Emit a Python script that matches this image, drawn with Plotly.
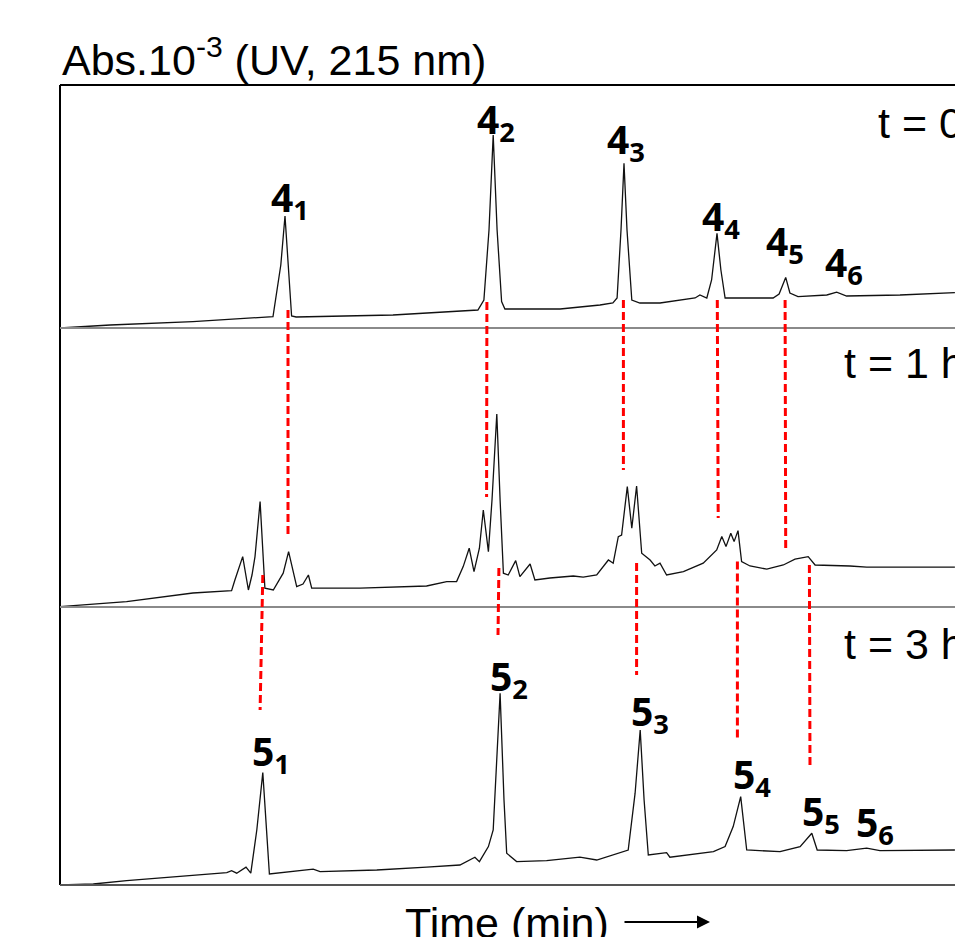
import plotly.graph_objects as go

# ---------------- data (time in min, absorbance x10^-3 relative to each trace's own baseline) -------------
t0_time = [0.0, 1.67, 4.43, 6.67, 7.10, 7.36, 7.50, 7.72, 7.87, 11.10, 13.67, 13.93, 14.13, 14.30, 14.44,
           14.57, 14.72, 14.83, 15.33, 16.67, 18.0, 18.43, 18.57, 18.70, 18.80, 18.90, 19.06, 19.33, 20.0,
           21.17, 21.33, 21.56, 21.72, 21.90, 22.03, 22.17, 23.77, 23.97, 24.19, 24.33, 24.60, 25.56, 25.89,
           26.22, 28.0, 29.83]
t0_abs = [0.0, 1.5, 3.2, 5.5, 5.7, 31.5, 56.0, 6.0, 5.5, 6.5, 9.0, 9.0, 14.0, 49.0, 96.5,
          49.0, 13.2, 9.5, 9.5, 9.5, 11.5, 12.5, 15.0, 49.0, 82.3, 49.0, 14.0, 12.5, 12.5,
          15.0, 16.5, 15.0, 24.0, 47.3, 29.0, 15.0, 15.0, 17.0, 25.3, 17.5, 15.7, 16.5, 17.9,
          16.0, 16.5, 17.7]

t1_time = [0.0, 2.22, 4.43, 5.72, 5.83, 6.09, 6.28, 6.40, 6.50, 6.67, 6.83, 7.11, 7.44, 7.62, 7.89,
           8.10, 8.28, 8.39, 10.0, 12.22, 12.89, 13.22, 13.44, 13.64, 13.80, 13.98, 14.11, 14.28, 14.40,
           14.56, 14.67, 14.78, 14.94, 15.19, 15.33, 15.67, 15.83, 16.33, 17.11, 17.44, 17.89, 18.28,
           18.44, 18.61, 18.72, 18.91, 19.06, 19.22, 19.39, 19.67, 19.83, 20.0, 20.22, 20.78, 21.44,
           21.89, 22.06, 22.20, 22.36, 22.47, 22.60, 22.72, 23.0, 23.56, 24.11, 24.50, 24.94, 25.17,
           26.33, 26.89, 29.83]
t1_abs = [0.2, 2.7, 7.0, 8.2, 13.5, 25.2, 8.5, 16.0, 25.2, 52.7, 9.4, 8.5, 16.9, 27.7, 10.2,
          11.5, 16.0, 9.4, 9.4, 10.5, 12.7, 12.7, 20.2, 29.4, 17.7, 29.4, 48.5, 27.7, 53.5,
          96.5, 53.5, 16.9, 16.0, 23.2, 15.2, 21.5, 13.5, 14.5, 15.5, 14.9, 16.0, 23.5,
          21.9, 35.2, 36.0, 60.2, 39.4, 60.5, 26.9, 23.5, 20.5, 21.9, 16.0, 17.7, 21.9,
          28.5, 35.2, 30.2, 36.9, 32.7, 38.2, 22.7, 20.5, 18.9, 21.0, 23.9, 25.2, 21.0,
          20.5, 19.9, 19.9]

t3_time = [0.0, 1.11, 2.22, 4.44, 5.56, 5.72, 5.89, 6.20, 6.36, 6.56, 6.76, 6.98, 7.78, 8.44, 8.67,
           10.56, 12.22, 13.33, 13.83, 13.98, 14.28, 14.44, 14.67, 14.80, 14.89, 15.22, 16.22, 17.33,
           17.89, 18.67, 18.94, 19.17, 19.34, 19.47, 19.61, 20.22, 20.33, 21.78, 22.17, 22.44, 22.69,
           22.89, 24.0, 24.67, 25.06, 25.24, 26.22, 26.89, 27.33, 29.83]
t3_abs = [0.0, 0.5, 2.2, 5.0, 6.2, 7.2, 5.9, 8.9, 5.9, 27.5, 56.2, 5.5, 6.7, 7.9, 6.7,
          7.5, 8.9, 10.0, 13.9, 11.7, 19.2, 27.5, 95.9, 42.5, 15.9, 11.7, 12.2, 13.9,
          12.5, 16.2, 17.5, 45.9, 77.5, 42.5, 15.0, 16.2, 13.9, 16.7, 19.2, 29.2, 44.2,
          17.5, 16.7, 19.2, 25.9, 17.5, 17.2, 18.4, 17.2, 17.5]

trace_names = ["t = 0", "t = 1 h", "t = 3 h"]
trace_times = [t0_time, t1_time, t3_time]
trace_abs = [t0_abs, t1_abs, t3_abs]

# peak labels: (compound, index, time, stacked absorbance)
peak_labels = [("4", "1", 7.65, 343.0), ("4", "2", 14.52, 381.8), ("4", "3", 18.88, 371.8),
               ("4", "4", 22.02, 333.3), ("4", "5", 24.15, 321.0), ("4", "6", 26.12, 310.3),
               ("5", "1", 7.03, 66.0), ("5", "2", 14.98, 103.3), ("5", "3", 19.68, 86.0),
               ("5", "4", 23.07, 54.3), ("5", "5", 25.35, 36.0), ("5", "6", 27.18, 30.3)]

# correlation links between runs: (time_top, abs_top, time_bottom, abs_bottom) in stacked units
links = [(7.60, 287.5, 7.60, 174.0), (14.23, 291.5, 14.22, 194.0), (18.78, 292.5, 18.78, 207.5),
         (21.91, 292.5, 21.94, 183.5), (24.17, 292.5, 24.19, 168.5),
         (6.76, 155.0, 6.67, 87.5), (14.63, 158.5, 14.60, 125.0), (19.22, 161.0, 19.22, 105.0),
         (22.58, 161.7, 22.58, 73.4), (24.98, 160.0, 25.00, 58.4)]

# ---------------- layout constants -------------
W, H = 955, 937
ML, MT, MB = 60, 85, 52
PH = H - MT - MB            # 800 px plot height
Y_MAX = 400.0
X_MAX = (W - ML) / 30.0
offsets = [278.5, 139.0, 0.0]   # stacking offsets of the three runs


def py(p):   # pixel y -> paper
    return (H - MB - p) / PH


def px(p):   # pixel x -> paper
    return (p - ML) / (W - ML)


fig = go.Figure()
for name, tt, aa, off in zip(trace_names, trace_times, trace_abs, offsets):
    fig.add_trace(go.Scatter(x=tt, y=[a + off for a in aa], mode="lines", name=name,
                             line=dict(color="#111111", width=1.3), showlegend=False,
                             hoverinfo="skip"))

shapes = []
# frame
shapes.append(dict(type="line", xref="paper", yref="paper", x0=0, x1=0, y0=0, y1=1,
                   line=dict(color="black", width=2)))
shapes.append(dict(type="line", xref="paper", yref="paper", x0=0, x1=1, y0=1, y1=1,
                   line=dict(color="black", width=2)))
shapes.append(dict(type="line", xref="paper", yref="paper", x0=0, x1=1, y0=0, y1=0,
                   line=dict(color="#555555", width=2)))
for off in offsets[:2]:
    shapes.append(dict(type="line", xref="paper", yref="y", x0=0, x1=1, y0=off, y1=off,
                       line=dict(color="#8a8a8a", width=2)))
for (xa, ya, xb, yb) in links:
    shapes.append(dict(type="line", xref="x", yref="y", x0=xa, y0=ya, x1=xb, y1=yb,
                       line=dict(color="#ff0000", width=3, dash="8px,4px")))

ann = []
LBL_FONT = dict(family="Open Sans", size=39, color="black")
for comp, idx, t, y in peak_labels:
    ann.append(dict(x=t, y=y, xref="x", yref="y", text=f"<b>{comp}<sub>{idx}</sub></b>",
                    showarrow=False, xanchor="center", yanchor="middle", font=LBL_FONT))

ARIAL = dict(family="Liberation Sans", size=43, color="black")
ann.append(dict(x=px(60), y=py(57), xref="paper", yref="paper",
                text="Abs.10<sup>-3</sup> (UV, 215 nm)", showarrow=False,
                xanchor="left", yanchor="middle", font=ARIAL))
ann.append(dict(x=px(876), y=py(123), xref="paper", yref="paper", text="t = 0 h",
                showarrow=False, xanchor="left", yanchor="middle", font=ARIAL))
ann.append(dict(x=px(842), y=py(363), xref="paper", yref="paper", text="t = 1 h",
                showarrow=False, xanchor="left", yanchor="middle", font=ARIAL))
ann.append(dict(x=px(842), y=py(644), xref="paper", yref="paper", text="t = 3 h",
                showarrow=False, xanchor="left", yanchor="middle", font=ARIAL))
ann.append(dict(x=px(403), y=py(923), xref="paper", yref="paper", text="Time (min)",
                showarrow=False, xanchor="left", yanchor="middle", font=ARIAL))
ann.append(dict(x=px(710), y=py(922), xref="paper", yref="paper", text="",
                showarrow=True, ax=-87, ay=0, arrowhead=2, arrowsize=1.3, arrowwidth=2,
                arrowcolor="black"))

fig.update_layout(
    width=W, height=H,
    margin=dict(l=ML, r=0, t=MT, b=MB, pad=0),
    paper_bgcolor="white", plot_bgcolor="white",
    xaxis=dict(range=[0, X_MAX], visible=False, fixedrange=True),
    yaxis=dict(range=[0, Y_MAX], visible=False, fixedrange=True),
    shapes=shapes, annotations=ann, showlegend=False,
)

fig.write_html("out.html", config={"displayModeBar": False},
               post_script="document.body.style.margin='0';document.body.style.overflow='hidden';")
